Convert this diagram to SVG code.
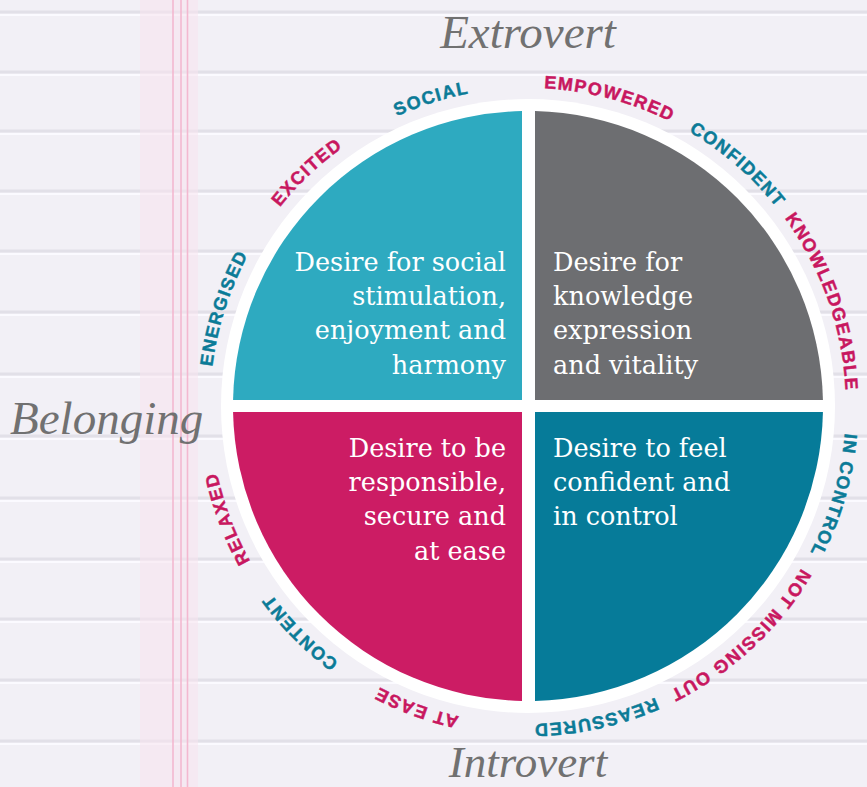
<svg xmlns="http://www.w3.org/2000/svg" width="867" height="787" viewBox="0 0 867 787">
  <style>
    .rule { stroke: #e2e0e8; stroke-width: 3; }
    .hl { stroke: #fbfaff; stroke-width: 2; }
    .margin { stroke: #f3b8d0; stroke-width: 1.6; }
    .q { fill: #ffffff; font-family: "DejaVu Serif", "Liberation Serif", serif; font-size: 25.5px; }
    .r { text-anchor: end; }
    .lab { font-family: "Liberation Sans", Arial, sans-serif; font-weight: bold; font-size: 18px; letter-spacing: 1.4px; stroke-width: 0.45px; }
    .m { fill: #c8175f; stroke: #c8175f; }
    .t { fill: #0b7b97; stroke: #0b7b97; }
    .script { fill: #717171; font-family: "Liberation Serif", serif; font-style: italic; font-size: 47px; }
  </style>
  <defs>
    <!-- clockwise ring for the curved labels, starting at the left point -->
    <path id="ring" d="M210,406 A318,318 0 1 1 846,406 A318,318 0 1 1 210,406"/>
  </defs>

  <!-- notebook paper -->
  <rect x="0" y="0" width="867" height="787" fill="#f2f0f6"/>
  <g id="paper-rules">
    <line class="rule" x1="0" y1="12" x2="867" y2="12"/>
    <line class="rule" x1="0" y1="72" x2="867" y2="72"/>
    <line class="rule" x1="0" y1="131" x2="867" y2="131"/>
    <line class="rule" x1="0" y1="191" x2="867" y2="191"/>
    <line class="rule" x1="0" y1="251" x2="867" y2="251"/>
    <line class="rule" x1="0" y1="312" x2="867" y2="312"/>
    <line class="rule" x1="0" y1="374" x2="867" y2="374"/>
    <line class="rule" x1="0" y1="436" x2="867" y2="436"/>
    <line class="rule" x1="0" y1="498" x2="867" y2="498"/>
    <line class="rule" x1="0" y1="559" x2="867" y2="559"/>
    <line class="rule" x1="0" y1="619" x2="867" y2="619"/>
    <line class="rule" x1="0" y1="680" x2="867" y2="680"/>
    <line class="rule" x1="0" y1="741" x2="867" y2="741"/>
    <line class="hl" x1="0" y1="15" x2="867" y2="15"/>
    <line class="hl" x1="0" y1="75" x2="867" y2="75"/>
    <line class="hl" x1="0" y1="134" x2="867" y2="134"/>
    <line class="hl" x1="0" y1="194" x2="867" y2="194"/>
    <line class="hl" x1="0" y1="254" x2="867" y2="254"/>
    <line class="hl" x1="0" y1="315" x2="867" y2="315"/>
    <line class="hl" x1="0" y1="377" x2="867" y2="377"/>
    <line class="hl" x1="0" y1="439" x2="867" y2="439"/>
    <line class="hl" x1="0" y1="501" x2="867" y2="501"/>
    <line class="hl" x1="0" y1="562" x2="867" y2="562"/>
    <line class="hl" x1="0" y1="622" x2="867" y2="622"/>
    <line class="hl" x1="0" y1="683" x2="867" y2="683"/>
    <line class="hl" x1="0" y1="744" x2="867" y2="744"/>
  </g>
  <g id="paper-margin">
    <rect x="140" y="0" width="58" height="787" fill="#f7e3ee" opacity="0.55"/>
    <line class="margin" x1="173" y1="0" x2="173" y2="787"/>
    <line class="margin" x1="181" y1="0" x2="181" y2="787"/>
    <line class="margin" x1="187.5" y1="0" x2="187.5" y2="787"/>
  </g>

  <!-- white disc behind the quadrants -->
  <circle cx="528" cy="406" r="307" fill="#ffffff"/>

  <g id="q-social">
    <path d="M522,400 V111.06 A295,295 0 0 0 233.06,400 Z" fill="#2eaac0"/>
    <text class="q r" x="506" y="271">Desire for social</text>
    <text class="q r" x="506" y="305">stimulation,</text>
    <text class="q r" x="506" y="339">enjoyment and</text>
    <text class="q r" x="506" y="374">harmony</text>
  </g>
  <g id="q-knowledge">
    <path d="M535,400 V111.08 A295,295 0 0 1 822.94,400 Z" fill="#6d6e71"/>
    <text class="q" x="553" y="271">Desire for</text>
    <text class="q" x="553" y="305">knowledge</text>
    <text class="q" x="553" y="339">expression</text>
    <text class="q" x="553" y="374">and vitality</text>
  </g>
  <g id="q-secure">
    <path d="M522,412 H233.06 A295,295 0 0 0 522,700.92 Z" fill="#cc1c64"/>
    <text class="q r" x="506" y="457">Desire to be</text>
    <text class="q r" x="506" y="491">responsible,</text>
    <text class="q r" x="506" y="525">secure and</text>
    <text class="q r" x="506" y="560">at ease</text>
  </g>
  <g id="q-control">
    <path d="M535,412 V700.92 A295,295 0 0 0 822.94,412 Z" fill="#067b99"/>
    <text class="q" x="553" y="457">Desire to feel</text>
    <text class="q" x="553" y="491">confident and</text>
    <text class="q" x="553" y="525">in control</text>
  </g>

  <!-- feeling words around the rim -->
  <g id="rim-labels" class="lab" text-anchor="middle">
    <text class="t"><textPath href="#ring" startOffset="98.8">ENERGISED</textPath></text>
    <text class="m"><textPath href="#ring" startOffset="258.6">EXCITED</textPath></text>
    <text class="t"><textPath href="#ring" startOffset="402.4">SOCIAL</textPath></text>
    <text class="m"><textPath href="#ring" startOffset="581.6">EMPOWERED</textPath></text>
    <text class="t"><textPath href="#ring" startOffset="726.5">CONFIDENT</textPath></text>
    <text class="m"><textPath href="#ring" startOffset="890.8">KNOWLEDGEABLE</textPath></text>
    <text class="t"><textPath href="#ring" startOffset="1088.9">IN CONTROL</textPath></text>
    <text class="m"><textPath href="#ring" startOffset="1260.4">NOT MISSING OUT</textPath></text>
    <text class="t"><textPath href="#ring" startOffset="1429.7">REASSURED</textPath></text>
    <text class="m"><textPath href="#ring" startOffset="1610.6">AT EASE</textPath></text>
    <text class="t"><textPath href="#ring" startOffset="1748.8">CONTENT</textPath></text>
    <text class="m"><textPath href="#ring" startOffset="1883.1">RELAXED</textPath></text>
  </g>

  <!-- axis titles -->
  <g id="axis-titles" class="script">
    <text x="528" y="48" text-anchor="middle">Extrovert</text>
    <text x="10" y="434">Belonging</text>
    <text x="528" y="777" text-anchor="middle" font-size="45">Introvert</text>
  </g>
</svg>
